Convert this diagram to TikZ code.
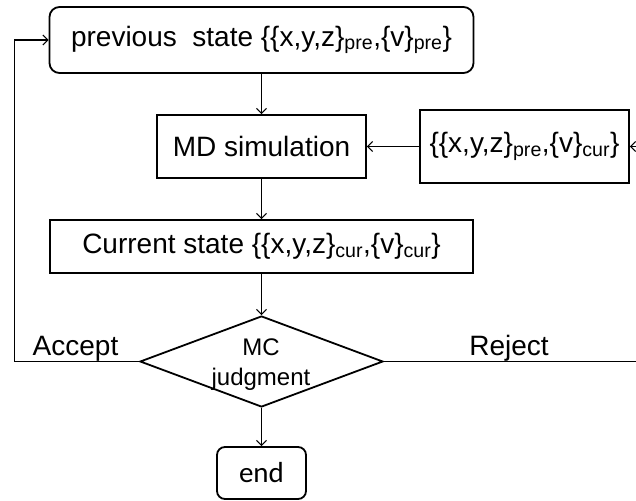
\documentclass[tikz,border=0pt]{standalone}
\usepackage{fontspec}
\setmainfont{Liberation Sans}
\newfontfamily\endfont{Carlito}
\usetikzlibrary{shapes.geometric,arrows.meta,positioning}
\newcommand{\sub}[1]{\textsubscript{#1}}

\begin{document}
\begin{tikzpicture}[x=1pt,y=-1pt,
                    stepbox/.style={draw, line width=1.8pt, inner sep=0pt, font=\fontsize{28}{32}\selectfont},
                    roundbox/.style={stepbox, rounded corners=10pt},
                    judgebox/.style={draw, diamond, line width=1.8pt, inner sep=0pt, minimum width=243pt, minimum height=91pt, aspect=2.7},
                    flow/.style={line width=1.1pt, black, -{Straight Barb[length=5pt,width=10pt]}},
                    lbl/.style={anchor=base, font=\fontsize{28}{32}\selectfont},
                   ]

\clip (0,0) rectangle (636,500);

% boxes
\node[roundbox, minimum width=424pt, minimum height=66pt] (prev) at (261.5,40) {previous\ \ state \{\{x,y,z\}\sub{pre},\{v\}\sub{pre}\}};
\node[stepbox, minimum width=209pt, minimum height=63pt] (md) at (261.5,146.5) {MD simulation};
\node[stepbox, minimum width=209pt, minimum height=73pt] (trial) at (524.5,146.5) {\{\{x,y,z\}\sub{pre},\{v\}\sub{cur}\}};
\node[stepbox, minimum width=423pt, minimum height=53pt] (cur) at (261.5,246.5) {Current state \{\{x,y,z\}\sub{cur},\{v\}\sub{cur}\}};
\node[judgebox] (judge) at (261.5,361.5) {};
\node[lbl, align=center, font=\fontsize{24}{30}\selectfont] (judgetext) at (261,385) {MC\\judgment};
\node[roundbox, minimum width=89pt, minimum height=52pt, rounded corners=8pt, font=\endfont\fontsize{29}{32}\selectfont] (end) at (261.5,473) {end};

% labels
\node[lbl] (accept) at (75.5,355) {Accept};
\node[lbl] (reject) at (509,355) {Reject};

\coordinate (loopleft) at (14.5,0);
\coordinate (loopright) at (640,0);

% connectors
\draw[flow] (md.north |- prev.south) -- (md.north);
\draw[flow] (trial.west) -- (trial.west -| md.east);
\draw[flow] (md.south) -- (md.south |- cur.north);
\draw[flow] (cur.south -| judge.north) -- (judge.north);
\draw[flow] (judge.south) -- (judge.south |- end.north);
\draw[flow] (judge.west) -- (judge.west -| loopleft) |- (prev.west);
\draw[flow] (judge.east) -- (judge.east -| loopright) |- (trial.east);

\end{tikzpicture}
\end{document}
